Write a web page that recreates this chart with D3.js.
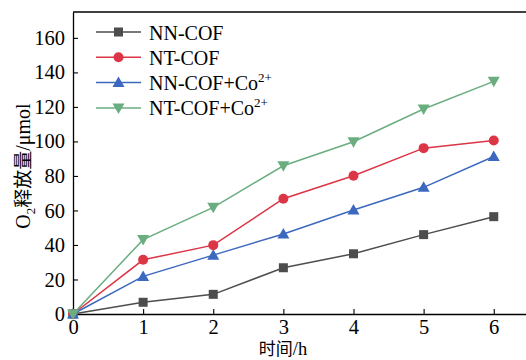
<!DOCTYPE html>
<html><head><meta charset="utf-8">
<script src="https://cdn.jsdelivr.net/npm/d3@7/dist/d3.min.js"></script>
<style>body{margin:0;background:#fff;} svg{display:block;} text{font-family:"Liberation Serif","Times New Roman",serif;} .cjk{font-family:"Noto Sans CJK SC",sans-serif;}</style>
</head><body>
<svg id="c" width="526" height="360"></svg>
<script>
const hours = [0, 1, 2, 3, 4, 5, 6];
const xTicks = [0, 1, 2, 3, 4, 5, 6];
const yTicks = [0, 20, 40, 60, 80, 100, 120, 140, 160];
const nnCOF = [0, 6.8, 11.4, 26.8, 34.9, 46.0, 56.4];
const ntCOF = [0, 31.4, 39.9, 66.8, 80.1, 96.1, 100.5];
const nnCOFCo = [0, 21.8, 34.1, 46.4, 60.3, 73.4, 91.3];
const ntCOFCo = [0, 43.1, 61.8, 85.9, 99.8, 118.8, 134.8];
const seriesNames = ["NN-COF", "NT-COF", "NN-COF+Co", "NT-COF+Co"];
const seriesSup = ["", "", "2+", "2+"];

const series = [
  {name: seriesNames[0], sup: seriesSup[0], values: nnCOF, color: "#4d4d4d", shape: "square"},
  {name: seriesNames[1], sup: seriesSup[1], values: ntCOF, color: "#dc3545", shape: "circle"},
  {name: seriesNames[2], sup: seriesSup[2], values: nnCOFCo, color: "#3c68c0", shape: "up"},
  {name: seriesNames[3], sup: seriesSup[3], values: ntCOFCo, color: "#6aae80", shape: "down"}
];

const svg = d3.select("#c");
const L = 73, R = 526, T = 12, B = 314;
const x = d3.scaleLinear().domain([0, 6.46]).range([L, R]);
const y = d3.scaleLinear().domain([0, 175]).range([B, T]);

svg.append("line").attr("x1", L).attr("x2", R).attr("y1", T).attr("y2", T)
  .attr("stroke", "#000").attr("stroke-width", 1.3);

const xAxis = svg.append("g").attr("transform", `translate(0,${B})`)
  .call(d3.axisBottom(x).tickValues(xTicks).tickSizeInner(-5).tickSizeOuter(0).tickPadding(3).tickFormat(d3.format("d")));
const yAxis = svg.append("g").attr("transform", `translate(${L},0)`)
  .call(d3.axisLeft(y).tickValues(yTicks).tickSizeInner(-5).tickSizeOuter(0).tickPadding(8).tickFormat(d3.format("d")));
[xAxis, yAxis].forEach(a => {
  a.attr("font-family", null).attr("font-size", null);
  a.selectAll("path").attr("stroke", "#000").attr("stroke-width", 1.3);
  a.selectAll("line").attr("stroke", "#000").attr("stroke-width", 1.1);
  a.selectAll("text").attr("font-size", 20.5).attr("fill", "#000");
});
xAxis.selectAll("text").attr("y", 4.5).attr("dy", "0.76em");

function marker(g, shape, cx, cy, color) {
  if (shape === "square") {
    g.append("rect").attr("x", cx - 4.5).attr("y", cy - 4.5).attr("width", 9).attr("height", 9).attr("fill", color);
  } else if (shape === "circle") {
    g.append("circle").attr("cx", cx).attr("cy", cy).attr("r", 5).attr("fill", color);
  } else if (shape === "up") {
    g.append("path").attr("d", `M${cx},${cy - 6}L${cx + 6},${cy + 4.5}L${cx - 6},${cy + 4.5}Z`).attr("fill", color);
  } else {
    g.append("path").attr("d", `M${cx},${cy + 6}L${cx + 6},${cy - 4.5}L${cx - 6},${cy - 4.5}Z`).attr("fill", color);
  }
}

const line = d3.line().x((d, i) => x(hours[i])).y(d => y(d));
series.forEach(s => {
  const g = svg.append("g");
  g.append("path").attr("d", line(s.values)).attr("fill", "none").attr("stroke", s.color).attr("stroke-width", 1.5);
  s.values.forEach((v, i) => marker(g, s.shape, x(hours[i]), y(v), s.color));
});

series.forEach((s, i) => {
  const ly = 32 + i * 25.3;
  const g = svg.append("g");
  g.append("line").attr("x1", 96).attr("x2", 141).attr("y1", ly).attr("y2", ly).attr("stroke", s.color).attr("stroke-width", 1.5);
  marker(g, s.shape, 118.5, ly, s.color);
  const t = g.append("text").attr("x", 149).attr("y", ly + 7.5).attr("font-size", 20).attr("fill", "#000");
  t.append("tspan").text(s.name);
  if (s.sup) t.append("tspan").attr("font-size", 13).attr("dy", -8).text(s.sup);
});

const xt = svg.append("text").attr("x", 283).attr("y", 355).attr("text-anchor", "middle")
  .attr("font-size", 18.5).attr("fill", "#000");
xt.append("tspan").attr("class", "cjk").attr("font-size", 17).text("时间");
xt.append("tspan").text("/h");

const yt = svg.append("text").attr("transform", "translate(30,166) rotate(-90)").attr("text-anchor", "middle")
  .attr("font-size", 20).attr("fill", "#000");
yt.append("tspan").text("O");
yt.append("tspan").attr("font-size", 13).attr("dy", 5).text("2");
yt.append("tspan").attr("dy", -5).attr("class", "cjk").attr("font-size", 19).text("释放量");
yt.append("tspan").text("/μmol");
</script>
</body></html>
